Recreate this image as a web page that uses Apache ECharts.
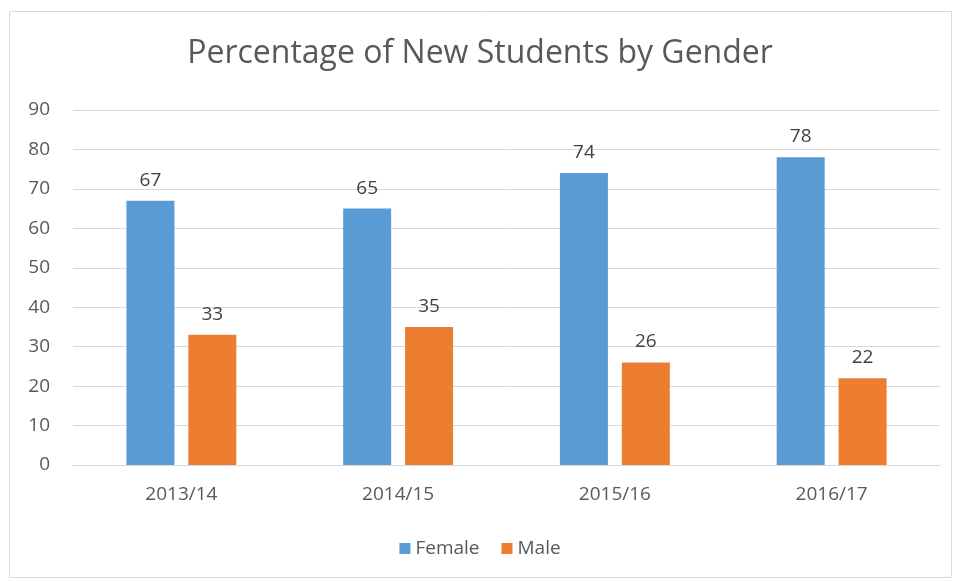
<!DOCTYPE html>
<html lang="en">
<head>
    <meta charset="UTF-8">
    <title>Percentage of New Students by Gender</title>
    <style>
        html, body { margin: 0; padding: 0; background: #fff; }
        #main { width: 960px; height: 582px; }
    </style>
</head>
<body>
<div id="main"></div>
<script src="https://cdn.jsdelivr.net/npm/echarts@6/dist/echarts.min.js"></script>
<script>
    var years = ['2013/14', '2014/15', '2015/16', '2016/17'];
    var female = [67, 65, 74, 78];
    var male = [33, 35, 26, 22];
    var yTicks = [0, 90, 10]; // min, max, step

    var textColor = '#595959';
    var font = '"Open Sans", "Liberation Sans", sans-serif';

    var myChart = echarts.init(document.getElementById('main'));
    var option = {
        backgroundColor: '#fff',
        textStyle: { fontFamily: font },
        graphic: [{
            type: 'rect',
            shape: { x: 9.5, y: 11.5, width: 942, height: 566 },
            style: { fill: 'none', stroke: '#d9d9d9', lineWidth: 1 }
        }],
        title: {
            text: 'Percentage of New Students by Gender',
            left: 'center',
            top: 33,
            textStyle: { fontSize: 32, fontWeight: 'normal', color: textColor, fontFamily: font }
        },
        legend: {
            bottom: 19,
            left: 'center',
            itemWidth: 11,
            itemHeight: 11,
            itemGap: 22,
            icon: 'rect',
            textStyle: { fontSize: 19, color: textColor, fontFamily: font },
            data: ['Female', 'Male']
        },
        grid: { left: 73, right: 20, top: 110, bottom: 117 },
        xAxis: {
            type: 'category',
            data: years,
            axisLine: { lineStyle: { color: '#d9d9d9' } },
            axisTick: { show: false },
            axisLabel: { fontSize: 19, color: textColor, margin: 20, fontFamily: font }
        },
        yAxis: {
            type: 'value',
            min: yTicks[0],
            max: yTicks[1],
            interval: yTicks[2],
            axisLine: { show: false },
            axisTick: { show: false },
            splitLine: { lineStyle: { color: '#d9d9d9' } },
            axisLabel: { fontSize: 19, color: textColor, margin: 23, fontFamily: font }
        },
        series: [
            {
                name: 'Female',
                type: 'bar',
                data: female,
                barWidth: 48,
                barGap: '29%',
                itemStyle: { color: '#5B9BD5' },
                label: { show: true, position: 'top', distance: 11, fontSize: 19, color: '#404040', fontFamily: font }
            },
            {
                name: 'Male',
                type: 'bar',
                data: male,
                barWidth: 48,
                barGap: '29%',
                itemStyle: { color: '#ED7D31' },
                label: { show: true, position: 'top', distance: 11, fontSize: 19, color: '#404040', fontFamily: font }
            }
        ]
    };
    myChart.setOption(option);
</script>
</body>
</html>
